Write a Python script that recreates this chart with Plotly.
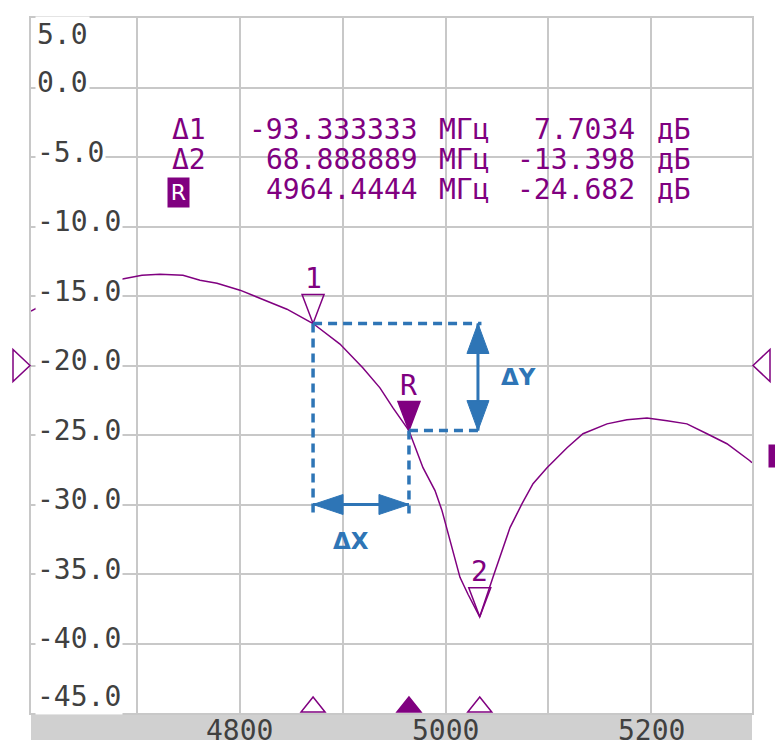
import plotly.graph_objects as go

# S21 trace (MHz, dB)
freq_mhz = [4596.6, 4620.0, 4654.0, 4686.1, 4704.6, 4722.1, 4744.5, 4761.1, 4777.6,
            4800.0, 4826.3, 4845.7, 4871.1, 4897.3, 4919.7, 4936.2, 4948.9, 4964.4,
            4978.1, 4989.8, 4996.6, 5004.4, 5014.1, 5021.9, 5033.3, 5046.2, 5056.0,
            5062.8, 5074.5, 5085.2, 5098.8, 5118.3, 5133.8, 5157.2, 5176.6, 5196.1,
            5215.6, 5235.0, 5254.5, 5273.9, 5296.2, 5298.3]
s21_db = [-16.09, -15.16, -14.22, -13.80, -13.51, -13.44, -13.51, -13.87, -14.08,
          -14.58, -15.37, -15.95, -16.98, -18.46, -20.18, -21.61, -23.05, -24.68,
          -27.35, -29.00, -30.44, -32.59, -35.24, -36.46, -38.08, -35.24, -33.09,
          -31.66, -29.94, -28.50, -27.35, -25.92, -24.91, -24.20, -23.91, -23.77,
          -23.98, -24.20, -24.91, -25.63, -26.85, -27.00]

# marker table (reference marker + two delta markers)
ref_freq = 4964.4444
ref_db = -24.682
delta_labels = ['Δ1', 'Δ2']
delta_names = ['1', '2']
delta_freq = [-93.333333, 68.888889]
delta_db = [7.7034, -13.398]
ref_level_db = -20.0

x_range = [4596.6, 5298.3]
y_range = [-45.0, 5.0]
x_grid = [4700, 4800, 4900, 5000, 5100, 5200]
x_tick_labels = [4800, 5000, 5200]
y_tick_labels = [5.0, 0.0, -5.0, -10.0, -15.0, -20.0, -25.0, -30.0, -35.0, -40.0, -45.0]

W, H = 783, 740
OFF = 8  # page body margin
PL, PT, PW, PH = 31, 16, 721, 697  # plot area in window pixels
ML, MT = PL - OFF, PT - OFF
MR, MB = W - ML - PW, H - MT - PH
PURPLE = '#800080'
BLUE = '#2e75b6'
GRID = '#c8c8c8'
TXT = '#404040'
MONO = 'DejaVu Sans Mono'


def px(x):
    return (x - PL) / PW


def py(y):
    return (PT + PH - y) / PH


def path(points):
    return 'M' + ' L'.join('{},{}'.format(a, b) for a, b in points) + ' Z'


def pix_shape(pts, xa, ya, xref='x', yref='y', fill=None, color=PURPLE, width=1.5):
    return dict(type='path', xref=xref, yref=yref, xsizemode='pixel', ysizemode='pixel',
                xanchor=xa, yanchor=ya, path=path(pts),
                fillcolor=fill if fill else 'rgba(0,0,0,0)',
                line=dict(color=color, width=width), layer='above')


mk_freq = [ref_freq + d for d in delta_freq]
mk_db = [ref_db + d for d in delta_db]

fig = go.Figure()
fig.add_trace(go.Scatter(x=freq_mhz, y=s21_db, mode='lines',
                         line=dict(color=PURPLE, width=1.5), hoverinfo='skip'))

shapes = []
# grey strip under the grid
shapes.append(dict(type='rect', xref='paper', yref='paper', x0=0, x1=1, y0=0, y1=-0.06,
                   fillcolor='#d0d0d0', line=dict(width=0), layer='below'))

# marker triangles on the trace
down_tri = [(-11, 29), (11, 29), (0, 0)]
for f, d in zip(mk_freq, mk_db):
    shapes.append(pix_shape(down_tri, f, d))
shapes.append(pix_shape(down_tri, ref_freq, ref_db, fill=PURPLE))

# marker ticks on the frequency axis
up_tri = [(-12, 1), (12, 1), (0, 16)]
for f in mk_freq:
    shapes.append(pix_shape(up_tri, f, 0, yref='paper'))
shapes.append(pix_shape(up_tri, ref_freq, 0, yref='paper', fill=PURPLE))

# reference level pointers
shapes.append(pix_shape([(-1, 0), (-18, 16), (-18, -16)], 0, ref_level_db, xref='paper'))
shapes.append(pix_shape([(1, 0), (18, 16), (18, -16)], 1, ref_level_db, xref='paper'))

# delta construction lines
dash = dict(color=BLUE, width=3.5, dash='9px,6px')
arrow_x = 5031.6
dash_end = 5035.0
foot_db = -30.65
dx_db = -30.0
m1f, m1d = mk_freq[0], mk_db[0]
shapes += [
    dict(type='line', x0=m1f, x1=dash_end, y0=m1d, y1=m1d, line=dash),
    dict(type='line', x0=ref_freq, x1=dash_end, y0=ref_db, y1=ref_db, line=dash),
    dict(type='line', x0=m1f, x1=m1f, y0=m1d, y1=foot_db, line=dash),
    dict(type='line', x0=ref_freq, x1=ref_freq, y0=ref_db, y1=foot_db, line=dash),
    dict(type='line', x0=arrow_x, x1=arrow_x, y0=m1d, y1=ref_db, line=dict(color=BLUE, width=3)),
    dict(type='line', x0=m1f, x1=ref_freq, y0=dx_db, y1=dx_db, line=dict(color=BLUE, width=3)),
]
shapes.append(pix_shape([(0, 0), (-11, -30), (11, -30)], arrow_x, m1d, fill=BLUE, color=BLUE, width=1))
shapes.append(pix_shape([(0, 0), (-11, 30), (11, 30)], arrow_x, ref_db, fill=BLUE, color=BLUE, width=1))
shapes.append(pix_shape([(0, 0), (30, 10), (30, -10)], m1f, dx_db, fill=BLUE, color=BLUE, width=1))
shapes.append(pix_shape([(0, 0), (-30, 10), (-30, -10)], ref_freq, dx_db, fill=BLUE, color=BLUE, width=1))

ann = []
# amplitude labels sit inside the grid on a white patch
for v in y_tick_labels:
    shift = 5
    if v == y_range[1]:
        shift = -16
    elif v == y_range[0]:
        shift = 17
    ann.append(dict(x=0, xref='paper', y=v, yref='y', xanchor='left', yanchor='middle',
                    xshift=4, yshift=shift, text='{:.1f}'.format(v), showarrow=False,
                    bgcolor='white', borderpad=1, font=dict(family=MONO, size=28, color=TXT)))
for v in x_tick_labels:
    ann.append(dict(x=v, xref='x', y=0, yref='paper', xanchor='center', yanchor='top',
                    yshift=1, text=str(v), showarrow=False,
                    font=dict(family=MONO, size=28, color=TXT)))

# marker names above the triangles
for f, d, n in zip(mk_freq + [ref_freq], mk_db + [ref_db], delta_names + ['R']):
    ann.append(dict(x=f, y=d, xref='x', yref='y', text=n, showarrow=False,
                    xanchor='center', yanchor='middle', yshift=45,
                    font=dict(family=MONO, size=28, color=PURPLE)))

# marker readout table
rows = [(delta_labels[i], delta_freq[i], delta_db[i]) for i in range(2)] + [('R', ref_freq, ref_db)]
row_y = [128, 158, 188]
tfont = dict(family=MONO, size=28, color=PURPLE)


def cell(x, y, text, anchor):
    return dict(x=px(x), y=py(y), xref='paper', yref='paper', xanchor=anchor,
                yanchor='middle', text=text, showarrow=False, font=tfont)


for (lab, f, d), yy in zip(rows, row_y):
    if lab == 'R':
        ann.append(dict(x=px(178.5), y=py(yy + 3), xref='paper', yref='paper', text='R',
                        xanchor='center', yanchor='middle', showarrow=False,
                        bgcolor=PURPLE, width=21, height=29, borderpad=0,
                        font=dict(family='DejaVu Sans', size=22, color='white')))
    else:
        ann.append(cell(170, yy, lab, 'left'))
    ann.append(cell(420, yy, '{:.8g}'.format(f), 'right'))
    ann.append(cell(437, yy, 'МГц', 'left'))
    ann.append(cell(637, yy, '{:.5g}'.format(d), 'right'))
    ann.append(cell(655, yy, 'дБ', 'left'))

# trace tag at the right edge
ann.append(dict(x=px(768), y=s21_db[-1], xref='paper', yref='y', xanchor='left',
                yanchor='middle', text='1', showarrow=False, bgcolor=PURPLE,
                width=30, height=22, borderpad=0, yshift=7,
                font=dict(family='DejaVu Sans', size=20, color='white')))

# delta captions
bold = dict(family='DejaVu Sans', size=23, color=BLUE, weight='bold')
ann.append(dict(x=px(518), y=py(376), xref='paper', yref='paper', text='ΔY',
                xanchor='center', yanchor='middle', showarrow=False, font=bold))
ann.append(dict(x=px(351), y=py(541), xref='paper', yref='paper', text='ΔX',
                xanchor='center', yanchor='middle', showarrow=False, font=bold))

fig.update_layout(width=W, height=H, margin=dict(l=ML, r=MR, t=MT, b=MB),
                  paper_bgcolor='white', plot_bgcolor='white', showlegend=False,
                  shapes=shapes, annotations=ann)
fig.update_xaxes(range=x_range, tickvals=x_grid, showticklabels=False, ticks='',
                 showgrid=True, gridcolor=GRID, gridwidth=2, zeroline=False,
                 showline=True, mirror=True, linecolor=GRID, linewidth=2, fixedrange=True)
fig.update_yaxes(range=y_range, tickvals=y_tick_labels[1:-1], showticklabels=False, ticks='',
                 showgrid=True, gridcolor=GRID, gridwidth=2, zeroline=False,
                 showline=True, mirror=True, linecolor=GRID, linewidth=2, fixedrange=True)
fig.write_html('out.html')
